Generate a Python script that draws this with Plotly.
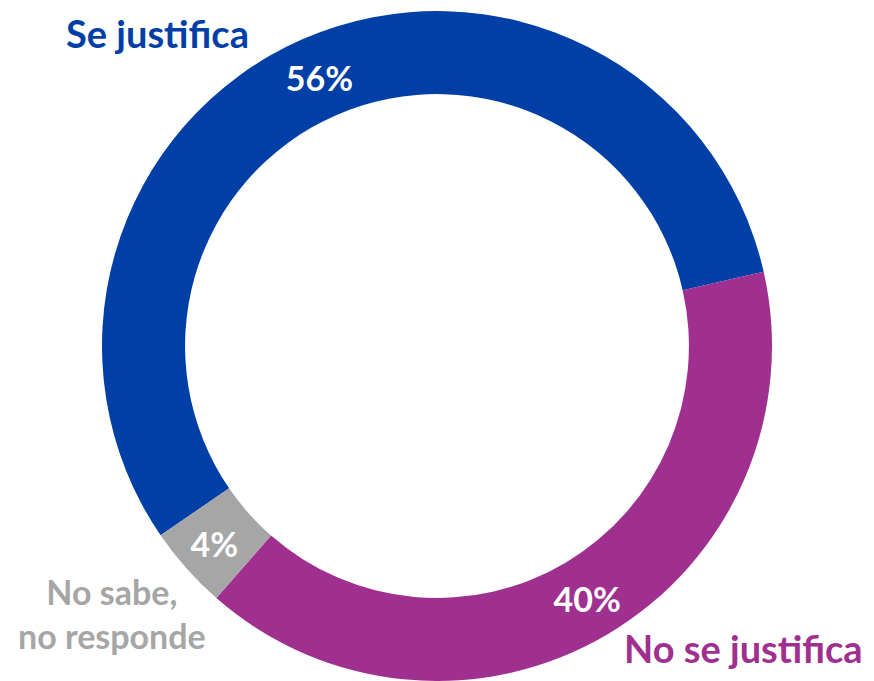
import plotly.graph_objects as go

categories = ["Se justifica", "No se justifica", "No sabe,<br>no responde"]
values = [56, 40, 4]
colors = ["#003FA6", "#A0308F", "#A6A6A6"]

fig = go.Figure(go.Pie(
    labels=categories,
    values=values,
    hole=0.752,
    sort=False,
    direction="clockwise",
    rotation=235.6,
    marker=dict(colors=colors, line=dict(width=0)),
    texttemplate="%{value}%",
    textposition="inside",
    insidetextorientation="horizontal",
    textfont=dict(family="Lato", size=34, color="white", weight="bold"),
    showlegend=False,
    domain=dict(x=[102/874, 772/874], y=[0, 1 - 11/681]),
))

font_fam = "Lato"
common = dict(xref="paper", yref="paper", showarrow=False,
              xanchor="center", yanchor="middle")
fig.add_annotation(x=157/874, y=1 - 33/681, text="<b>Se justifica</b>",
                   font=dict(family=font_fam, size=38, color=colors[0]), **common)
fig.add_annotation(x=743/874, y=1 - 648/681, text="<b>No se justifica</b>",
                   font=dict(family=font_fam, size=38, color=colors[1]), **common)
fig.add_annotation(x=112/874, y=1 - 613/681, text="<b>No sabe,</b><br><b>no responde</b>",
                   font=dict(family=font_fam, size=34, color=colors[2]), **common)

fig.update_layout(
    width=874, height=681,
    margin=dict(l=0, r=0, t=0, b=0),
    paper_bgcolor="white", plot_bgcolor="white",
)
fig.write_html("out.html", config={"displayModeBar": False},
               post_script="document.body.style.margin='0';")
